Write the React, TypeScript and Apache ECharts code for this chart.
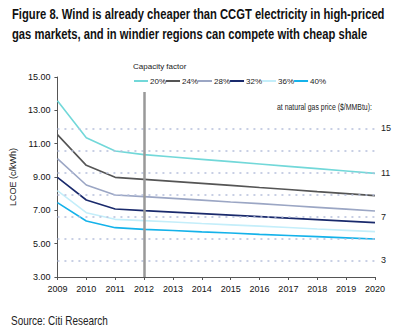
import React, { useEffect, useRef } from "react";
import * as echarts from "echarts";

const years = ["2009","2010","2011","2012","2013","2014","2015","2016","2017","2018","2019","2020"];
const cf20 = [13.58, 11.36, 10.56, 10.34, 10.2, 10.06, 9.92, 9.78, 9.64, 9.5, 9.36, 9.22];
const cf24 = [11.54, 9.7, 8.98, 8.86, 8.74, 8.62, 8.5, 8.37, 8.25, 8.12, 8.0, 7.88];
const cf28 = [10.1, 8.52, 7.92, 7.82, 7.72, 7.61, 7.5, 7.4, 7.29, 7.18, 7.07, 6.96];
const cf32 = [8.98, 7.62, 7.08, 6.98, 6.89, 6.8, 6.71, 6.62, 6.53, 6.44, 6.35, 6.26];
const cf36 = [8.18, 6.86, 6.46, 6.38, 6.3, 6.21, 6.13, 6.05, 5.97, 5.88, 5.8, 5.72];
const cf40 = [7.46, 6.36, 5.96, 5.86, 5.79, 5.71, 5.64, 5.56, 5.49, 5.42, 5.35, 5.28];
const seriesNames = ["20%", "24%", "28%", "32%", "36%", "40%"];
const seriesColors = ["#72d8d9", "#555555", "#9ba6c4", "#1a2a6c", "#c4eefa", "#14b2ea"];
const gasPriceLCOE = [11.92, 10.6, 9.27, 7.95, 6.62, 5.32, 4.0];
const gasPriceLabels = ["15", "", "11", "", "7", "", "3"];
const yTicks = { min: 3, max: 15, interval: 2 };
const divider = { year: "2012", from: 3, to: 14.1 };

const FONT = "'Liberation Sans Narrow', 'Liberation Sans', Arial, sans-serif";

function measure(text: string, font: string): number {
  const c = document.createElement("canvas");
  const ctx = c.getContext("2d")!;
  ctx.font = font;
  return ctx.measureText(text).width;
}

export default function App() {
  const ref = useRef<HTMLDivElement>(null);
  useEffect(() => {
    if (!ref.current) return;
    const chart = echarts.init(ref.current, null, { renderer: "svg" });
    const data = [cf20, cf24, cf28, cf32, cf36, cf40];
    const t1 = "Figure 8. Wind is already cheaper than CCGT electricity in high-priced";
    const t2 = "gas markets, and in windier regions can compete with cheap shale";
    const titleFont = "bold 14px " + FONT;
    const sx = 373 / measure(t1, titleFont);
    const gasText = "at natural gas price ($/MMBtu):";
    const gasFont = "9px " + FONT;
    const gsx = 95 / measure(gasText, gasFont);
    const srcText = "Source: Citi Research";
    const srcFont = "12px " + FONT;
    const ssx = 97 / measure(srcText, srcFont);
    const series: any[] = data.map((d, i) => ({
      name: seriesNames[i],
      type: "line",
      data: d,
      symbol: "none",
      lineStyle: { color: seriesColors[i], width: 1.6 },
      itemStyle: { color: seriesColors[i] },
      z: 3,
    }));
    series[0].markLine = {
      silent: true,
      symbol: "none",
      animation: false,
      lineStyle: { type: [2, 5], color: "#b7c0dc", width: 1.5 },
      label: { show: true, position: "end", distance: 6, fontSize: 9, fontFamily: FONT, color: "#222", formatter: (p: any) => p.name },
      data: gasPriceLCOE.map((v, i) => ({ yAxis: v, name: gasPriceLabels[i] })),
    };
    series[1].markLine = {
      silent: true,
      symbol: "none",
      animation: false,
      label: { show: false },
      lineStyle: { type: "solid", color: "#999999", width: 2.5 },
      data: [[{ coord: [divider.year, divider.from] }, { coord: [divider.year, divider.to] }]],
    };
    chart.setOption({
      animation: false,
      grid: { left: 48, right: 26, top: 77, bottom: 57 },
      legend: {
        data: seriesNames,
        left: 134,
        top: 76,
        padding: 0,
        icon: "rect",
        itemWidth: 14,
        itemHeight: 2,
        itemGap: 0,
        textStyle: { fontSize: 8, lineHeight: 10, fontFamily: FONT, color: "#222", padding: [0, 0, 0, -3] },
      },
      xAxis: {
        type: "category",
        data: years,
        boundaryGap: false,
        axisLine: { lineStyle: { color: "#555", width: 1 } },
        axisTick: { show: true, length: 3, alignWithLabel: true, lineStyle: { color: "#555" } },
        axisLabel: { fontSize: 9, fontFamily: FONT, color: "#111", margin: 7 },
      },
      yAxis: {
        type: "value",
        min: yTicks.min,
        max: yTicks.max,
        interval: yTicks.interval,
        name: "LCOE (c/kWh)",
        nameLocation: "middle",
        nameGap: 23,
        nameTextStyle: { fontSize: 9, fontFamily: FONT, color: "#222" },
        axisLine: { show: true, lineStyle: { color: "#555", width: 1 } },
        axisTick: { show: true, length: 3, lineStyle: { color: "#555" } },
        splitLine: { show: false },
        axisLabel: { fontSize: 9, fontFamily: FONT, color: "#111", margin: 7, formatter: (v: number) => v.toFixed(2) },
      },
      graphic: [
        { type: "text", left: 12, top: 8, scaleX: sx, style: { text: t1, font: titleFont, fill: "#111" } },
        { type: "text", left: 12, top: 28, scaleX: sx, style: { text: t2, font: titleFont, fill: "#111" } },
        { type: "text", left: 133, top: 62, style: { text: "Capacity factor", font: "8px " + FONT, fill: "#222" } },
        { type: "text", left: 277, top: 103, scaleX: gsx, style: { text: gasText, font: gasFont, fill: "#222" } },
        { type: "text", left: 11, top: 315, scaleX: ssx, style: { text: srcText, font: srcFont, fill: "#222" } },
      ],
      series,
    });
    return () => chart.dispose();
  }, []);
  return <div ref={ref} style={{ width: 401, height: 334, position: "absolute", left: 0, top: 0, background: "#fff" }} />;
}
